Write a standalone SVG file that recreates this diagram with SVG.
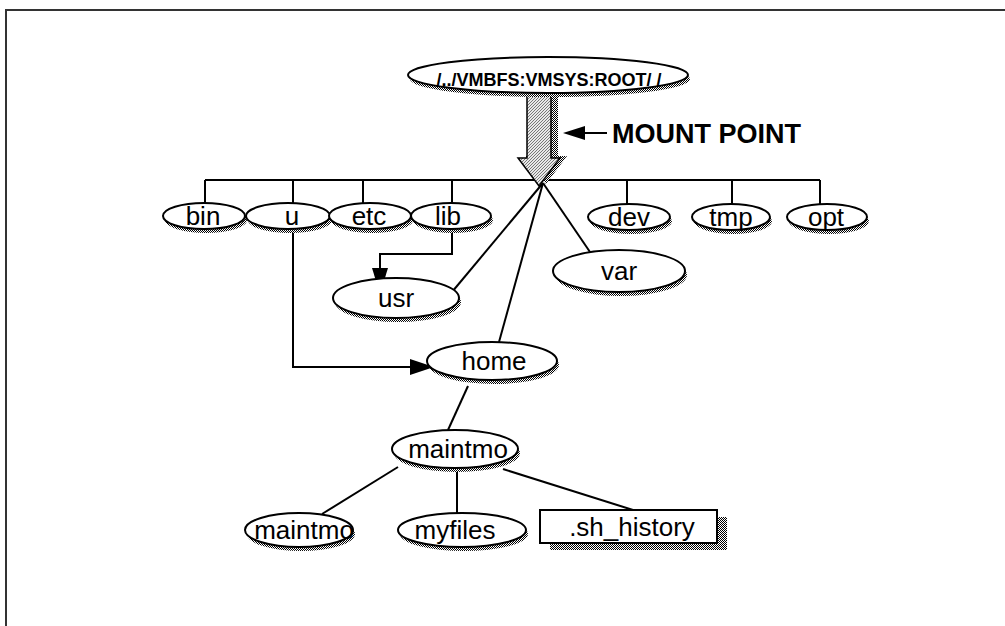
<svg xmlns="http://www.w3.org/2000/svg" width="1005" height="626" viewBox="0 0 1005 626">
  <defs>
    <!-- dithered grey used for drop shadows -->
    <pattern id="dither" width="2" height="2" patternUnits="userSpaceOnUse">
      <rect width="2" height="2" fill="#fff"/>
      <rect width="1" height="1" fill="#000"/>
      <rect x="1" y="1" width="1" height="1" fill="#000"/>
    </pattern>
    <!-- diagonal hatching for the face of the mount arrow -->
    <pattern id="hatch" width="3" height="3" patternUnits="userSpaceOnUse">
      <rect width="3" height="3" fill="#e8e8e8"/>
      <path d="M0,3 L3,0" stroke="#777" stroke-width="1"/>
    </pattern>
    <style>
      .node { fill: #fff; stroke: #000; stroke-width: 2; }
      .shadow { fill: url(#dither); stroke: none; }
      .label { font-family: "Liberation Sans", Arial, sans-serif; font-size: 26px; fill: #000; text-anchor: middle; }
      .root { font-family: "Liberation Sans", Arial, sans-serif; font-size: 18px; font-weight: bold; fill: #000; text-anchor: middle; }
      .callout { font-family: "Liberation Sans", Arial, sans-serif; font-size: 27px; font-weight: bold; fill: #000; }
      .wire { fill: none; stroke: #000; stroke-width: 2; }
      .head { fill: #000; stroke: none; }
    </style>
  </defs>

  <rect width="1005" height="626" fill="#fff"/>

  <!-- page frame -->
  <path d="M6,626 L6,10 L1005,10" fill="none" stroke="#333" stroke-width="2"/>

  <!-- connectors -->
  <g id="connectors">
    <path class="wire" d="M205,180 L820,180"/>
    <path class="wire" d="M205,180 L205,203"/>
    <path class="wire" d="M293,180 L293,203"/>
    <path class="wire" d="M363,180 L363,203"/>
    <path class="wire" d="M452,180 L452,203"/>
    <path class="wire" d="M627,180 L627,204"/>
    <path class="wire" d="M732,180 L732,204"/>
    <path class="wire" d="M820,180 L820,204"/>
    <path class="wire" d="M543,183 L452,292"/>
    <path class="wire" d="M543,183 L499,342"/>
    <path class="wire" d="M543,183 L590,252"/>
    <path class="wire" d="M468,386 L448,430"/>
    <path class="wire" d="M398,467 L322,514"/>
    <path class="wire" d="M457,468 L457,514"/>
    <path class="wire" d="M503,469 L633,510"/>
    <!-- u -> home -->
    <path class="wire" d="M293,229 L293,367 L412,367"/>
    <path class="head" d="M410,359 L434,367 L410,375 Z"/>
    <!-- lib -> usr -->
    <path class="wire" d="M452,229 L452,254 L380,254 L380,270"/>
    <path class="head" d="M372,268 L388,268 L380,294 Z"/>
    <!-- MOUNT POINT pointer -->
    <path class="wire" d="M580,133 L607,133"/>
    <path class="head" d="M563,133 L585,126 L585,140 Z"/>
  </g>

  <!-- mount arrow -->
  <g id="mount-arrow">
    <path d="M534,92 L558,92 L558,156 L567,156 L546,184 L525,156 L534,156 Z" fill="url(#dither)"/>
    <path d="M527,94 L551,94 L551,158 L560,158 L539,186 L518,158 L527,158 Z" fill="url(#hatch)" stroke="#000" stroke-width="1.5"/>
  </g>
  <text id="mount-label" class="callout" x="612" y="143">MOUNT POINT</text>

  <g id="root">
    <ellipse class="shadow" cx="550" cy="79" rx="140" ry="18"/>
    <ellipse class="node" cx="548" cy="75" rx="140" ry="18"/>
    <text class="root" x="549" y="86">/../VMBFS:VMSYS:ROOT/ /</text>
  </g>

  <g id="bin">
    <ellipse class="shadow" cx="206" cy="220" rx="41" ry="13"/>
    <ellipse class="node" cx="204" cy="216" rx="41" ry="13"/>
    <text class="label" x="203" y="225">bin</text>
  </g>
  <g id="u">
    <ellipse class="shadow" cx="290" cy="220" rx="42" ry="13"/>
    <ellipse class="node" cx="288" cy="216" rx="42" ry="13"/>
    <text class="label" x="292" y="225">u</text>
  </g>
  <g id="etc">
    <ellipse class="shadow" cx="372" cy="220" rx="41" ry="13"/>
    <ellipse class="node" cx="370" cy="216" rx="41" ry="13"/>
    <text class="label" x="369" y="225">etc</text>
  </g>
  <g id="lib">
    <ellipse class="shadow" cx="453" cy="220" rx="40" ry="13"/>
    <ellipse class="node" cx="451" cy="216" rx="40" ry="13"/>
    <text class="label" x="448" y="225">lib</text>
  </g>
  <g id="dev">
    <ellipse class="shadow" cx="631" cy="221" rx="41" ry="13"/>
    <ellipse class="node" cx="629" cy="217" rx="41" ry="13"/>
    <text class="label" x="629" y="226">dev</text>
  </g>
  <g id="tmp">
    <ellipse class="shadow" cx="733" cy="221" rx="39" ry="13"/>
    <ellipse class="node" cx="731" cy="217" rx="39" ry="13"/>
    <text class="label" x="731" y="226">tmp</text>
  </g>
  <g id="opt">
    <ellipse class="shadow" cx="829" cy="221" rx="40" ry="13"/>
    <ellipse class="node" cx="827" cy="217" rx="40" ry="13"/>
    <text class="label" x="826" y="226">opt</text>
  </g>
  <g id="var">
    <ellipse class="shadow" cx="621" cy="275" rx="66" ry="21"/>
    <ellipse class="node" cx="619" cy="271" rx="66" ry="21"/>
    <text class="label" x="619" y="280">var</text>
  </g>
  <g id="usr">
    <ellipse class="shadow" cx="398" cy="302" rx="63" ry="20"/>
    <ellipse class="node" cx="396" cy="298" rx="63" ry="20"/>
    <text class="label" x="396" y="307">usr</text>
  </g>
  <g id="home">
    <ellipse class="shadow" cx="494" cy="365" rx="65" ry="19"/>
    <ellipse class="node" cx="492" cy="361" rx="65" ry="19"/>
    <text class="label" x="494" y="370">home</text>
  </g>
  <g id="maintmo">
    <ellipse class="shadow" cx="457" cy="453" rx="63" ry="19"/>
    <ellipse class="node" cx="455" cy="449" rx="63" ry="19"/>
    <text class="label" x="458" y="458">maintmo</text>
  </g>
  <g id="maintmo-sub">
    <ellipse class="shadow" cx="301" cy="534" rx="54" ry="17"/>
    <ellipse class="node" cx="299" cy="530" rx="54" ry="17"/>
    <text class="label" x="304" y="539">maintmo</text>
  </g>
  <g id="myfiles">
    <ellipse class="shadow" cx="464" cy="534" rx="64" ry="17"/>
    <ellipse class="node" cx="462" cy="530" rx="64" ry="17"/>
    <text class="label" x="455" y="539">myfiles</text>
  </g>
  <g id="sh-history">
    <rect class="shadow" x="550" y="517" width="177" height="33"/>
    <rect class="node" x="540" y="510" width="177" height="33"/>
    <text class="label" x="632" y="536">.sh_history</text>
  </g>
</svg>
